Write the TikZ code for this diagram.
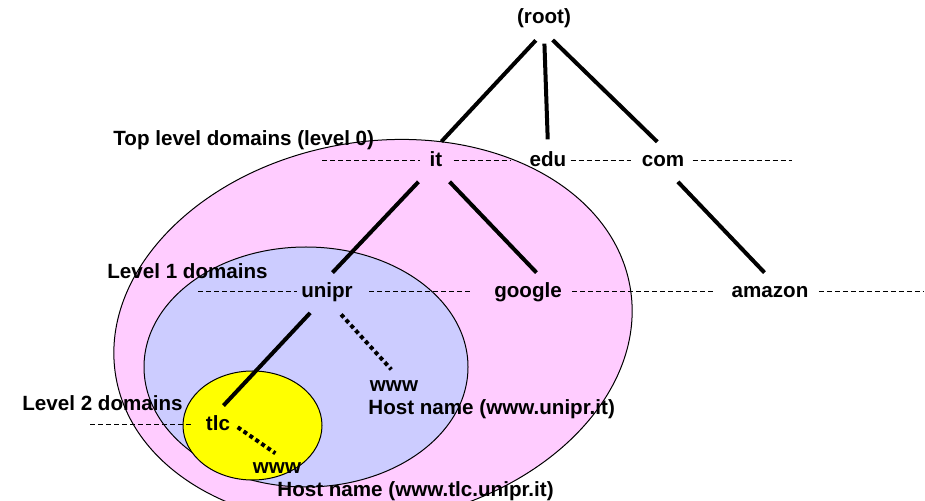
\documentclass[tikz,border=0pt]{standalone}
\usepackage{fontspec}
\setmainfont{Liberation Sans}
\usepackage{tikz}
\usetikzlibrary{positioning,calc}
\definecolor{lvlpink}{RGB}{255,204,255}
\definecolor{lvlblue}{RGB}{204,204,255}
\definecolor{lvlyellow}{RGB}{255,255,0}

\begin{document}
\begin{tikzpicture}[x=0.5pt,y=-0.5pt,font=\fontsize{10.3}{12}\bfseries,
  dom/.style={inner sep=2pt,text height=7.2pt,text depth=2pt},
  lbl/.style={anchor=base west,inner sep=0pt},
  edge/.style={line width=2pt,shorten <=5pt,shorten >=4pt},
  hostln/.style={line width=2pt,dash pattern=on 2pt off 1.6pt},
  lvl/.style={line width=0.5pt,dash pattern=on 2.5pt off 1.5pt}]
\useasboundingbox (0,0) rectangle (925,501);
\clip (0,0) rectangle (925,501);
% domain levels
\draw[fill=lvlpink,line width=0.5pt,rotate around={10:(373,332)}] (373,332) ellipse [x radius=261,y radius=190];
\draw[fill=lvlblue,line width=0.5pt] (306,367) ellipse [x radius=162,y radius=120];
\draw[fill=lvlyellow,line width=0.5pt] (252.5,425.5) ellipse [x radius=69.5,y radius=54.5];
% tree
\node[dom] (root) at (544,18) {(root)};
\node[dom] (it) at (436,161) {it};
\node[dom] (edu) at (548,161) {edu};
\node[dom] (com) at (663,161) {com};
\node[dom] (unipr) at (327,292) {unipr};
\node[dom] (google) at (528,292) {google};
\node[dom] (amazon) at (770,292) {amazon};
\node[dom] (tlc) at (218,425) {tlc};
\node[dom] (www1) at (394,386) {www};
\node[dom] (www2) at (277,468) {www};
\node[lbl] (top) at (113,146) {Top level domains (level 0)};
\node[lbl] (lone) at (107,279) {Level 1 domains};
\node[lbl] (ltwo) at (22,411) {Level 2 domains};
\node[lbl] (hostA) at (368,415) {Host name (www.unipr.it)};
\node[lbl] (hostB) at (277,496) {Host name (www.tlc.unipr.it)};
\draw[edge,shorten <=6pt] (root.south) -- (it.north);
\draw[edge,shorten <=6pt] (root.south) -- (edu.north);
\draw[edge,shorten <=6pt] (root.south) -- (com.north);
\draw[edge] (it.south west) -- (unipr.north);
\draw[edge] ([xshift=-2pt]it.south east) -- ([xshift=7pt]google.north);
\draw[edge] ([xshift=4pt]com.south) -- (amazon.north);
\draw[edge] ([xshift=-5pt]unipr.south) -- (tlc.north);
\draw[hostln,shorten <=6pt,shorten >=2pt] ([xshift=3pt]unipr.south) -- (www1.north);
\draw[hostln,shorten <=2pt,shorten >=1pt] (tlc.east) -- (www2.north);
% level lines
\coordinate (l0w) at (322,161); \coordinate (l0e) at (792,161);
\coordinate (l1w) at (198,292); \coordinate (l1e) at (923,292);
\coordinate (l2w) at (90,425);
\draw[lvl,shorten >=2.5pt] (l0w) -- (it);
\draw[lvl,shorten <=3.5pt,shorten >=7pt] (it) -- (edu);
\draw[lvl,shorten >=3pt] (edu) -- (com);
\draw[lvl,shorten <=2pt] (com) -- (l0e);
\draw[lvl] (l1w) -- (unipr);
\draw[lvl,shorten <=6pt,shorten >=9pt] (unipr) -- (google);
\draw[lvl,shorten <=3pt,shorten >=6.5pt] (google) -- (amazon);
\draw[lvl,shorten <=3pt] (amazon) -- (l1e);
\draw[lvl,shorten >=5pt] (l2w) -- (tlc);
\end{tikzpicture}
\end{document}
